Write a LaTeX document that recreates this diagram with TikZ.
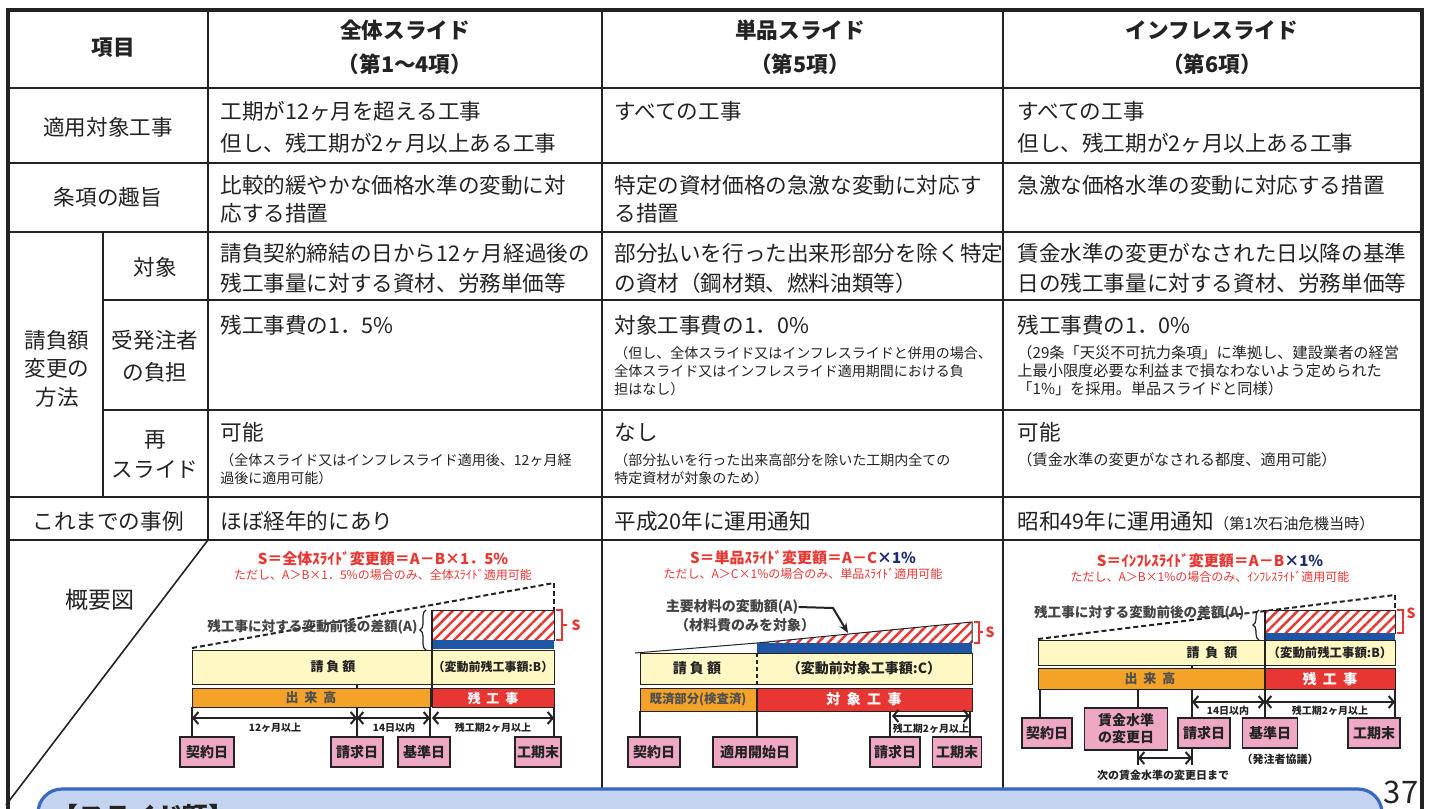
\documentclass[tikz,border=0pt]{standalone}
\usepackage{fontspec}
\setmainfont{Noto Sans CJK JP}
\usetikzlibrary{patterns.meta,arrows.meta,decorations.pathreplacing}
\definecolor{ink}{RGB}{35,35,35}
\definecolor{redc}{RGB}{232,55,50}
\definecolor{yel}{RGB}{255,248,196}
\definecolor{ora}{RGB}{244,162,40}
\definecolor{bluc}{RGB}{30,85,165}
\definecolor{pinkc}{RGB}{238,168,198}
\definecolor{navy}{RGB}{30,45,110}
\definecolor{bxfill}{RGB}{196,212,240}
\definecolor{bxline}{RGB}{55,105,190}
\tikzset{
  tb/.style={inner sep=0, anchor=west, font=\fontsize{10.8}{12}\selectfont, text=ink},
  hd/.style={inner sep=0, font=\bfseries\fontsize{10.8}{12}\selectfont, text=ink},
  lb/.style={inner sep=0, font=\fontsize{10.8}{12}\selectfont, text=ink},
  tn/.style={inner sep=0, anchor=west, font=\fontsize{7}{8}\selectfont, text=ink},
  tn3/.style={inner sep=0, anchor=west, font=\fontsize{7.6}{8}\selectfont, text=ink},
  grid/.style={draw=ink, line width=1pt},
  frm/.style={inner sep=0, font=\bfseries\fontsize{7.5}{8}\selectfont, text=redc},
  frm2/.style={inner sep=0, font=\fontsize{6}{7}\selectfont, text=redc},
  dl/.style={inner sep=0, font=\bfseries\fontsize{6.8}{8}\selectfont, text=ink!85},
  bt/.style={inner sep=0, font=\bfseries\fontsize{6.5}{7}\selectfont, text=ink},
  wt/.style={inner sep=0, font=\bfseries\fontsize{7}{8}\selectfont, text=white},
  tiny/.style={inner sep=0, font=\bfseries\fontsize{5}{6}\selectfont, text=ink},
  pbox/.style={draw=ink, line width=0.8pt, fill=pinkc, inner sep=0, align=center,
    font=\bfseries\fontsize{7}{8.5}\selectfont, text=ink, minimum height=15pt},
  bar/.style={draw=ink, line width=0.5pt},
  tl/.style={draw=ink, line width=1pt},
  dsh/.style={draw=ink, line width=1pt, dash pattern=on 2.5pt off 1.5pt},
  hatch/.style={pattern={Lines[angle=45,distance=3.6pt,line width=1.2pt]}, pattern color=redc},
  dim/.style={{Straight Barb[length=2.5pt,width=6pt]}-{Straight Barb[length=2.5pt,width=6pt]}, draw=ink, line width=1pt},
  sbr/.style={draw=redc, line width=0.7pt},
}
\begin{document}
\begin{tikzpicture}[x=0.5pt,y=-0.5pt]
\useasboundingbox (0,0) rectangle (1431,809);
\fill[white] (0,0) rectangle (1431,809);

% ---------- table grid ----------
\draw[draw=ink, line width=1.6pt] (8,809) -- (8,10) -- (1422,10) -- (1422,809);
\foreach \yy in {88,163,232,497,540} \draw[grid] (8,\yy) -- (1422,\yy);
\foreach \yy in {300,410} \draw[grid] (103,\yy) -- (1422,\yy);
\draw[grid] (208,10) -- (208,540);
\draw[grid] (602,10) -- (602,809);
\draw[grid] (1003,10) -- (1003,809);
\draw[grid] (103,232) -- (103,497);
\draw[draw=ink, line width=0.8pt] (6,805) -- (208,540);

% ---------- header ----------
\node[hd] (h0) at (113,48) {項目};
\node[hd] (h1a) at (405,30) {全体スライド};
\node[hd] (h1b) at (405,64) {（第1～4項）};
\node[hd] (h2a) at (800,30) {単品スライド};
\node[hd] (h2b) at (800,64) {（第5項）};
\node[hd] (h3a) at (1212,30) {インフレスライド};
\node[hd] (h3b) at (1212,64) {（第6項）};

% ---------- left labels ----------
\node[lb] (l1) at (108,127) {適用対象工事};
\node[lb] (l2) at (108,197) {条項の趣旨};
\node[lb] (l3) at (155,267) {対象};
\node[lb] (l4a) at (155,340) {受発注者};
\node[lb] (l4b) at (155,372) {の負担};
\node[lb] (l5a) at (155,440) {再};
\node[lb] (l5b) at (155,470) {スライド};
\node[lb] (m1) at (57,340) {請負額};
\node[lb] (m2) at (57,368) {変更の};
\node[lb] (m3) at (57,397) {方法};
\node[lb] (l6) at (108,521) {これまでの事例};
\node[lb, font=\fontsize{11.5}{12}\selectfont] (l7) at (100,600) {概要図};

% ---------- row 1 ----------
\node[tb] (r1a) at (220,111) {工期が12ヶ月を超える工事};
\node[tb] (r1b) at (220,143) {但し、残工期が2ヶ月以上ある工事};
\node[tb] (r1c) at (614,111) {すべての工事};
\node[tb] (r1d) at (1017,111) {すべての工事};
\node[tb] (r1e) at (1017,143) {但し、残工期が2ヶ月以上ある工事};
% ---------- row 2 ----------
\node[tb] (r2a) at (220,185) {比較的緩やかな価格水準の変動に対};
\node[tb] (r2b) at (220,213) {応する措置};
\node[tb] (r2c) at (614,185) {特定の資材価格の急激な変動に対応す};
\node[tb] (r2d) at (614,213) {る措置};
\node[tb] (r2e) at (1017,185) {急激な価格水準の変動に対応する措置};
% ---------- row 3 ----------
\node[tb] (r3a) at (220,253) {請負契約締結の日から12ヶ月経過後の};
\node[tb] (r3b) at (220,283) {残工事量に対する資材、労務単価等};
\node[tb] (r3c) at (614,253) {部分払いを行った出来形部分を除く特定};
\node[tb] (r3d) at (614,283) {の資材（鋼材類、燃料油類等）};
\node[tb] (r3e) at (1017,253) {賃金水準の変更がなされた日以降の基準};
\node[tb] (r3f) at (1017,283) {日の残工事量に対する資材、労務単価等};
% ---------- row 4 ----------
\node[tb] (r4a) at (220,325) {残工事費の1．5\%};
\node[tb] (r4b) at (614,325) {対象工事費の1．0\%};
\node[tn] (r4c) at (614,353) {（但し、全体スライド又はインフレスライドと併用の場合、};
\node[tn] (r4d) at (614,371) {全体スライド又はインフレスライド適用期間における負};
\node[tn] (r4e) at (614,389) {担はなし）};
\node[tb] (r4f) at (1017,325) {残工事費の1．0\%};
\node[tn3] (r4g) at (1017,353) {（29条「天災不可抗力条項」に準拠し、建設業者の経営};
\node[tn3] (r4h) at (1017,371) {上最小限度必要な利益まで損なわないよう定められた};
\node[tn3] (r4i) at (1017,389) {「1\%」を採用。単品スライドと同様）};
% ---------- row 5 ----------
\node[tb] (r5a) at (220,432) {可能};
\node[tn] (r5b) at (220,460) {（全体スライド又はインフレスライド適用後、12ヶ月経};
\node[tn] (r5c) at (220,478) {過後に適用可能）};
\node[tb] (r5d) at (614,432) {なし};
\node[tn] (r5e) at (614,460) {（部分払いを行った出来高部分を除いた工期内全ての};
\node[tn] (r5f) at (614,478) {特定資材が対象のため）};
\node[tb] (r5g) at (1017,432) {可能};
\node[tn3] (r5h) at (1017,460) {（賃金水準の変更がなされる都度、適用可能）};
% ---------- row 6 ----------
\node[tb] (r6a) at (220,521) {ほぼ経年的にあり};
\node[tb] (r6b) at (614,521) {平成20年に運用通知};
\node[tb] (r6c) at (1017,521) {昭和49年に運用通知{\fontsize{7.6}{8}\selectfont （第1次石油危機当時）}};

% ================= diagram 1 =================
\node[frm] (f1a) at (383,559) {S＝全体ｽﾗｲﾄﾞ変更額＝A－B×1．5\%};
\node[frm2] (f1b) at (383,575) {ただし、A＞B×1．5\%の場合のみ、全体ｽﾗｲﾄﾞ適用可能};
\draw[dsh] (192,648) -- (554,583);
\draw[dsh] (554,583) -- (554,610);
\fill[white] (432,610) rectangle (554,640);
\fill[hatch] (432,610) rectangle (554,640);
\draw[bar] (432,610) rectangle (554,640);
\fill[bluc] (432,640) rectangle (554,649);
\draw[bar, fill=yel] (192,650) rectangle (554,684);
\draw[bar, fill=ora] (192,688) rectangle (430,707);
\draw[bar, fill=redc] (432,688) rectangle (554,707);
\draw[tl] (432,610) -- (432,707);
\draw[tl] (357,684) -- (357,688);
\node[bt] (d1y1) at (333,667) {請\ 負\ 額};
\node[bt, font=\bfseries\fontsize{6}{7}\selectfont] (d1y2) at (493,667) {（変動前残工事額:B）};
\node[bt, text=ink!80] (d1o) at (311,698) {出\ \ 来\ \ 高};
\node[wt, font=\bfseries\fontsize{6.5}{7}\selectfont] (d1r) at (493,698) {残\ \ 工\ \ 事};
\node[dl, anchor=east] (d1A) at (418,627) {残工事に対する変動前後の差額(A)};
\draw[draw=ink, line width=0.6pt, decorate, decoration={brace, amplitude=3pt}] (426,650) -- (426,610);
\draw[sbr] (556,610) -- (562,610) -- (562,640) -- (556,640);
\draw[sbr] (562,625) -- (567,625);
\node[frm, font=\bfseries\fontsize{7}{8}\selectfont] (d1S) at (576,625) {S};
\draw[tl] (192,707) -- (192,737);
\draw[tl] (357,707) -- (357,737);
\draw[tl] (430,707) -- (430,737);
\draw[tl] (554,707) -- (554,737);
\draw[dim] (192,718) -- (357,718);
\draw[dim] (357,718) -- (430,718);
\draw[dim] (432,718) -- (554,718);
\node[tiny] (d1t1) at (275,728) {12ヶ月以上};
\node[tiny] (d1t2) at (394,728) {14日以内};
\node[tiny] (d1t3) at (493,728) {残工期2ヶ月以上};
\node[pbox, minimum width=27pt] (d1k) at (207,752) {契約日};
\node[pbox, minimum width=26pt] (d1s) at (357,752) {請求日};
\node[pbox, minimum width=26pt] (d1b) at (424,752) {基準日};
\node[pbox, minimum width=23pt] (d1e) at (538,752) {工期末};

% ================= diagram 2 =================
\node[frm] (f2a) at (803,558) {S＝単品ｽﾗｲﾄﾞ変更額＝A－C\textcolor{navy}{×1\%}};
\node[frm2] (f2b) at (803,574) {ただし、A＞C×1\%の場合のみ、単品ｽﾗｲﾄﾞ適用可能};
\node[dl, font=\bfseries\fontsize{7}{8}\selectfont] (d2A1) at (732,607) {主要材料の変動額(A)};
\node[dl, font=\bfseries\fontsize{7}{8}\selectfont] (d2A2) at (745,625) {（材料費のみを対象）};
\coordinate (d2tip) at (848,633);
\draw[draw=ink, line width=1pt, -{Stealth[length=5pt,width=4pt]}] (d2A1.east) -- (833,608) -- (d2tip);
\fill[white] (757,643) -- (972,622) -- (972,643) -- cycle;
\fill[hatch] (757,643) -- (972,622) -- (972,643) -- cycle;
\draw[bar] (635,653) -- (757,643) -- (972,622) -- (972,643);
\fill[bluc] (757,643) rectangle (972,653);
\draw[bar, fill=yel] (640,653) rectangle (972,684);
\draw[bar, fill=ora] (640,688) rectangle (756,711);
\draw[bar, fill=redc] (757,688) rectangle (972,711);
\draw[draw=ink, line width=1.4pt, dash pattern=on 2pt off 1.5pt] (757,653) -- (757,684);
\node[bt, font=\bfseries\fontsize{7}{8}\selectfont] (d2y1) at (697,668) {請\ 負\ 額};
\node[bt, font=\bfseries\fontsize{7}{8}\selectfont] (d2y2) at (864,668) {（変動前対象工事額:C）};
\node[bt, font=\bfseries\fontsize{6.2}{7}\selectfont, text=ink!80] (d2o) at (698,699) {既済部分(検査済)};
\node[wt] (d2r) at (864,699) {対\ \ 象\ \ 工\ \ 事};
\draw[sbr] (974,622) -- (979,622) -- (979,643) -- (974,643);
\draw[sbr] (979,632) -- (983,632);
\node[frm, font=\bfseries\fontsize{7}{8}\selectfont] (d2S) at (990,632) {S};
\draw[tl] (640,711) -- (640,737);
\draw[tl] (757,711) -- (757,737);
\draw[tl] (890,711) -- (890,737);
\draw[tl] (970,711) -- (970,737);
\draw[dim] (892,716) -- (970,716);
\node[tiny] (d2t1) at (931,729) {残工期2ヶ月以上};
\node[pbox, minimum width=26pt] (d2k) at (654,752) {契約日};
\node[pbox, minimum width=42pt] (d2a) at (755,752) {適用開始日};
\node[pbox, minimum width=25pt] (d2s) at (895,752) {請求日};
\node[pbox, minimum width=24.5pt] (d2e) at (957,752) {工期末};

% ================= diagram 3 =================
\node[frm] (f3a) at (1210,561) {S＝ｲﾝﾌﾚｽﾗｲﾄﾞ変更額＝A－B\textcolor{navy}{×1\%}};
\node[frm2] (f3b) at (1210,577) {ただし、A＞B×1\%の場合のみ、ｲﾝﾌﾚｽﾗｲﾄﾞ適用可能};
\draw[dsh] (1038,639) -- (1395,595);
\draw[dsh] (1395,595) -- (1395,610);
\fill[white] (1265,610) rectangle (1395,633);
\fill[hatch] (1265,610) rectangle (1395,633);
\draw[bar] (1265,610) rectangle (1395,633);
\fill[bluc] (1265,633) rectangle (1395,640);
\draw[bar, fill=yel] (1038,640) rectangle (1395,665);
\draw[bar, fill=ora] (1038,668) rectangle (1264,689);
\draw[bar, fill=redc] (1265,668) rectangle (1395,689);
\draw[tl] (1265,610) -- (1265,689);
\draw[tl] (1192,665) -- (1192,668);
\node[bt] (d3y1) at (1212,653) {請\ \ 負\ \ 額};
\node[bt, font=\bfseries\fontsize{6.2}{7}\selectfont] (d3y2) at (1330,653) {（変動前残工事額:B）};
\node[bt, text=ink!80] (d3o) at (1150,679) {出\ \ 来\ \ 高};
\node[wt] (d3r) at (1330,679) {残\ \ 工\ \ 事};
\node[dl, anchor=east] (d3A) at (1250,613) {残工事に対する変動前後の差額(A)-};
\draw[draw=ink, line width=0.6pt, decorate, decoration={brace, amplitude=3pt}] (1259,640) -- (1259,610);
\draw[sbr] (1397,610) -- (1403,610) -- (1403,633) -- (1397,633);
\node[frm, font=\bfseries\fontsize{7}{8}\selectfont] (d3S) at (1411,613) {S};
\draw[tl] (1040,689) -- (1040,718);
\draw[tl] (1138,689) -- (1138,708);
\draw[tl] (1192,689) -- (1192,718);
\draw[tl] (1265,689) -- (1265,718);
\draw[tl] (1395,689) -- (1395,718);
\draw[dim] (1192,702) -- (1265,702);
\draw[dim] (1265,702) -- (1395,702);
\node[tiny] (d3t1) at (1228,711) {14日以内};
\node[tiny] (d3t2) at (1330,711) {残工期2ヶ月以上};
\node[pbox, minimum width=25pt] (d3k) at (1047,733) {契約日};
\node[pbox, minimum width=41.5pt, minimum height=21pt] (d3w) at (1126,729) {賃金水準\\の変更日};
\node[pbox, minimum width=26pt] (d3s) at (1204,733) {請求日};
\node[pbox, minimum width=27.5pt] (d3b) at (1270,733) {基準日};
\node[pbox, minimum width=26pt] (d3e) at (1374,733) {工期末};
\node[tiny, font=\bfseries\fontsize{5.5}{6}\selectfont] (d3n) at (1280,759) {（発注者協議）};
\draw[tl] (1138,750) -- (1138,765);
\draw[tl] (1192,748) -- (1192,765);
\draw[dim] (1138,758) -- (1192,758);
\node[tiny, font=\bfseries\fontsize{5.5}{6}\selectfont] (d3m) at (1163,775) {次の賃金水準の変更日まで};

% ---------- bottom box and page number ----------
\draw[draw=bxline, line width=1.6pt, fill=bxfill, rounded corners=12pt] (38,789) rectangle (1382,870);
\node[inner sep=0, anchor=west, font=\bfseries\fontsize{13}{14}\selectfont, text=ink] (sl) at (52,817) {【スライド額】};
\node[inner sep=0, font=\fontsize{15.5}{16}\selectfont, text=ink] (pg) at (1401,792) {37};
\end{tikzpicture}
\end{document}
